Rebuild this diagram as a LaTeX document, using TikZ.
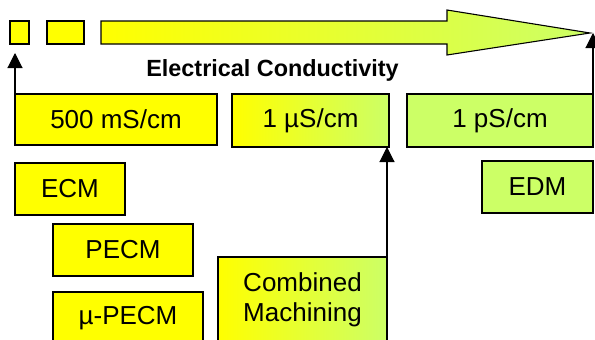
\documentclass[tikz,border=0pt]{standalone}
\usepackage{fontspec}
\setmainfont{Liberation Sans}
\usetikzlibrary{arrows.meta,positioning,calc}
\definecolor{yelo}{RGB}{255,255,0}
\definecolor{limey}{RGB}{204,255,102}

\begin{document}
\begin{tikzpicture}[x=1pt, y=-1pt, line width=1.1pt,
    box/.style={draw=black, fill=yelo, inner sep=0pt, outer sep=0pt,
      align=center, font=\fontsize{26}{30}\selectfont},
    grad/.style={box, left color=yelo, right color=limey},
    green/.style={box, fill=limey},
    arr/.style={-{Triangle[length=15pt,width=15pt]}}]
    \clip (0,0) rectangle (595,340);
    % ---- conductivity scale on top
    \node[box, minimum width=19pt, minimum height=23pt] (sqa) at (19.5,32.5) {};
    \node[box, minimum width=37pt, minimum height=23pt] (sqb) at (65.5,32.5) {};
    \shade[left color=yelo, right color=limey, draw=black]
      (101,21) -- (447,21) -- (447,10) -- (590,33) -- (447,55) -- (447,44) -- (101,44) -- cycle;
    \node[font=\bfseries\fontsize{23.4}{27}\selectfont, anchor=base] (title) at (272.5,76) {Electrical Conductivity};
    % ---- conductivity values
    \node[box, minimum width=202pt, minimum height=51pt] (ms) at (116,119.5) {500 mS/cm};
    \node[grad, minimum width=157pt, minimum height=53pt] (us) at (310.5,120.5) {1 µS/cm};
    \node[green, minimum width=186pt, minimum height=53pt] (ps) at (500,120.5) {1 pS/cm};
    % ---- processes
    \node[box, minimum width=110pt, minimum height=52pt] (ecm) at (70,189) {ECM};
    \node[box, minimum width=140pt, minimum height=52pt] (pecm) at (123,250) {PECM};
    \node[box, minimum width=150pt, minimum height=52pt] (upecm) at (128,318) {µ-PECM};
    \node[grad, minimum width=169pt, minimum height=86pt] (comb) at (302.5,300) {Combined\\Machining};
    \node[green, minimum width=111pt, minimum height=52pt] (edm) at (537.5,187) {EDM};
    % ---- arrows
    \coordinate (lo) at (15,53);
    \coordinate (hi) at (593,33);
    \draw[arr] (ms.north west) -- (lo);
    \draw[arr] (ps.north east) -- (hi);
    \draw[arr] (comb.north east) -- (comb.north east |- us.south);
\end{tikzpicture}
\end{document}
